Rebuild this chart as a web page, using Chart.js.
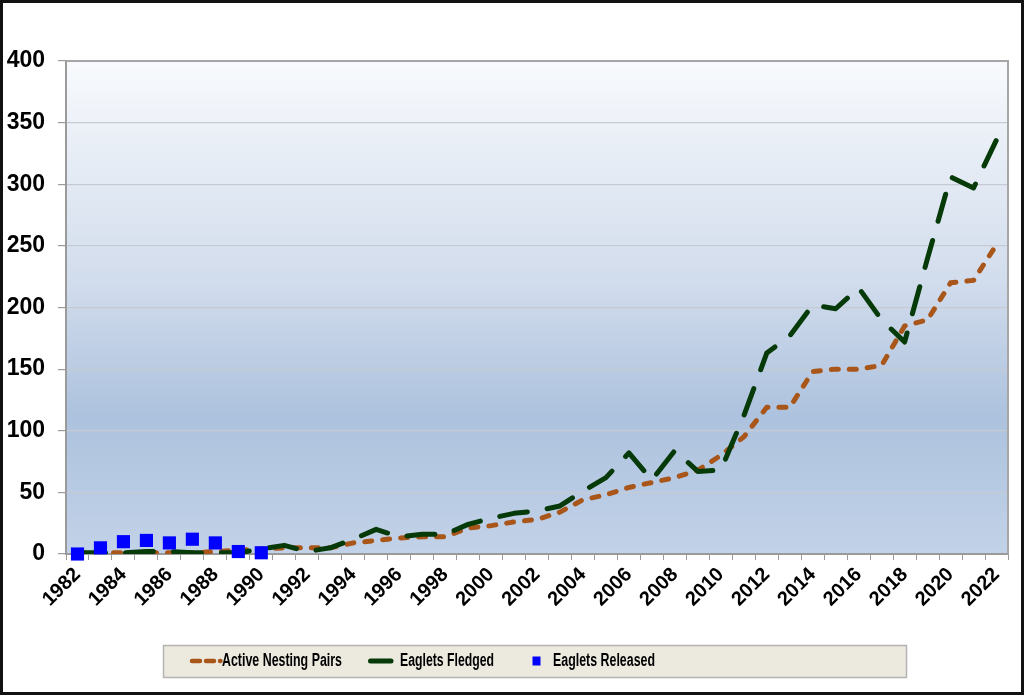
<!DOCTYPE html>
<html><head><meta charset="utf-8">
<script src="https://cdn.jsdelivr.net/npm/chart.js@4.4.1/dist/chart.umd.min.js"></script>
<style>html,body{margin:0;padding:0;background:#fff;}canvas{display:block;}</style>
</head><body>
<canvas id="c" width="1024" height="695"></canvas>
<script>
const categories = ['1982','1983','1984','1985','1986','1987','1988','1989','1990','1991',
  '1992','1993','1994','1995','1996','1997','1998','1999','2000','2001',
  '2002','2003','2004','2005','2006','2007','2008','2009','2010','2011',
  '2012','2013','2014','2015','2016','2017','2018','2019','2020','2021','2022'];
const activeNestingPairs = [1,1,1,1,1,1,2,3,4,5,
  5,5,9,11,13,14,14,21,23,26,
  28,34,44,48,54,58,62,68,80,95,
  119,119,148,150,150,153,185,190,220,222,251];
const eagletsFledged = [1,1,1,2,2,1,1,1,4,7,
  2,5,12,20,14,16,16,24,29,33,
  35,39,51,62,82,60,84,67,68,112,
  163,177,202,199,216,190,172,240,306,297,336];
const eagletsReleased = [0,5,10,11,9,12,9,2,1,null,
  null,null,null,null,null,null,null,null,null,null,
  null,null,null,null,null,null,null,null,null,null,
  null,null,null,null,null,null,null,null,null,null,null];
const xTickLabels = ['1982','1984','1986','1988','1990','1992','1994','1996','1998','2000','2002',
  '2004','2006','2008','2010','2012','2014','2016','2018','2020','2022'];
const yTickValues = [0,50,100,150,200,250,300,350,400];
const seriesNames = ['Active Nesting Pairs','Eaglets Fledged','Eaglets Released'];

const FONT = '"Liberation Sans", Arial, Helvetica, sans-serif';
const ORANGE = '#a9561a', GREEN = '#063a08', BLUE = '#0000ff';

const decor = {
  id: 'decor',
  beforeDraw(chart) {
    const {ctx, chartArea: a} = chart;
    const g = ctx.createLinearGradient(0, a.top, 0, a.bottom);
    g.addColorStop(0, '#f8fafd');
    g.addColorStop(0.45, '#d1dcec');
    g.addColorStop(0.72, '#adc2de');
    g.addColorStop(1, '#c2d2e8');
    ctx.save();
    ctx.fillStyle = g;
    ctx.fillRect(a.left, a.top, a.right - a.left, a.bottom - a.top);
    ctx.restore();
  },
  afterDraw(chart) {
    const {ctx, chartArea: a} = chart;
    ctx.save();
    ctx.strokeStyle = '#a6a6a6'; ctx.lineWidth = 2;
    ctx.beginPath(); ctx.moveTo(a.left, a.top); ctx.lineTo(a.right, a.top); ctx.lineTo(a.right, a.bottom); ctx.stroke();
    // outer frame
    ctx.strokeStyle = '#111'; ctx.lineWidth = 3;
    ctx.strokeRect(1.5, 1.5, chart.width - 3, chart.height - 3);
    // legend box
    const lx = 163.5, ly = 645.5, lw = 743, lh = 32, cy = 661;
    ctx.fillStyle = '#ece9de'; ctx.fillRect(lx, ly, lw, lh);
    ctx.strokeStyle = '#b4b4b4'; ctx.lineWidth = 1.5; ctx.strokeRect(lx, ly, lw, lh);
    const ds = chart.data.datasets;
    // sample 1: dashed orange
    ctx.strokeStyle = ds[0].borderColor; ctx.lineWidth = 4.5; ctx.lineCap = 'round';
    ctx.setLineDash([8, 6]);
    ctx.beginPath(); ctx.moveTo(192, cy); ctx.lineTo(220.5, cy); ctx.stroke();
    ctx.setLineDash([]);
    // sample 2: green line
    ctx.strokeStyle = ds[1].borderColor; ctx.lineWidth = 5;
    ctx.beginPath(); ctx.moveTo(370.5, cy); ctx.lineTo(391, cy); ctx.stroke();
    // sample 3: blue square
    ctx.fillStyle = ds[2].backgroundColor; ctx.fillRect(532.5, cy - 4.5, 8, 9);
    // texts (condensed bold)
    ctx.fillStyle = '#000'; ctx.font = 'bold 18px ' + FONT; ctx.textBaseline = 'middle'; ctx.textAlign = 'left';
    const txt = (s, x, w) => {
      const m = ctx.measureText(s).width;
      ctx.save(); ctx.translate(x, cy + 0.5); ctx.scale(w / m, 1); ctx.fillText(s, 0, 0); ctx.restore();
    };
    txt(ds[0].label, 222, 120);
    txt(ds[1].label, 400, 94);
    txt(ds[2].label, 553, 102);
    ctx.restore();
  }
};

new Chart(document.getElementById('c'), {
  type: 'line',
  data: {
    labels: categories,
    datasets: [
      { label: seriesNames[0], data: activeNestingPairs, borderColor: ORANGE, backgroundColor: ORANGE,
        borderWidth: 5, borderDash: [7, 11], borderCapStyle: 'round', borderJoinStyle: 'round',
        pointRadius: 0, tension: 0, order: 2 },
      { label: seriesNames[1], data: eagletsFledged, borderColor: GREEN, backgroundColor: GREEN,
        borderWidth: 5, borderDash: [28, 20], borderCapStyle: 'round', borderJoinStyle: 'round',
        pointRadius: 0, tension: 0, order: 1 },
      { label: seriesNames[2], data: eagletsReleased, borderColor: BLUE, backgroundColor: BLUE,
        showLine: false, pointStyle: 'rect', pointRadius: 9.3, pointBorderWidth: 0, order: 0, clip: false }
    ]
  },
  options: {
    responsive: false, animation: false, devicePixelRatio: 1,
    layout: { padding: { top: 61, right: 16, left: 0, bottom: 0 } },
    plugins: { legend: { display: false }, tooltip: { enabled: false } },
    scales: {
      x: {
        type: 'category', offset: true,
        grid: { offset: true, drawOnChartArea: false, tickLength: 6, tickColor: '#9a9a9a' },
        border: { color: '#9a9a9a', width: 2 },
        ticks: {
          autoSkip: false, maxRotation: 45, minRotation: 45, padding: 3, color: '#000',
          font: { family: FONT, size: 20, weight: 'bold' },
          callback: function (v) { const l = this.getLabelForValue(v); return xTickLabels.includes(l) ? l : ''; }
        },
        afterFit(s) { s.height = 141; s.paddingLeft = 0; s.paddingRight = 0; }
      },
      y: {
        min: 0, max: 400,
        grid: { color: '#c6cad2', tickLength: 8, tickColor: '#9a9a9a', lineWidth: 1.2 },
        border: { color: '#9a9a9a', width: 2 },
        afterBuildTicks(s) { s.ticks = yTickValues.map(v => ({ value: v })); },
        ticks: { color: '#000', padding: 13, font: { family: FONT, size: 23, weight: 'bold' } },
        afterFit(s) { s.width = 66; }
      }
    }
  },
  plugins: [decor]
});
</script>
</body></html>
